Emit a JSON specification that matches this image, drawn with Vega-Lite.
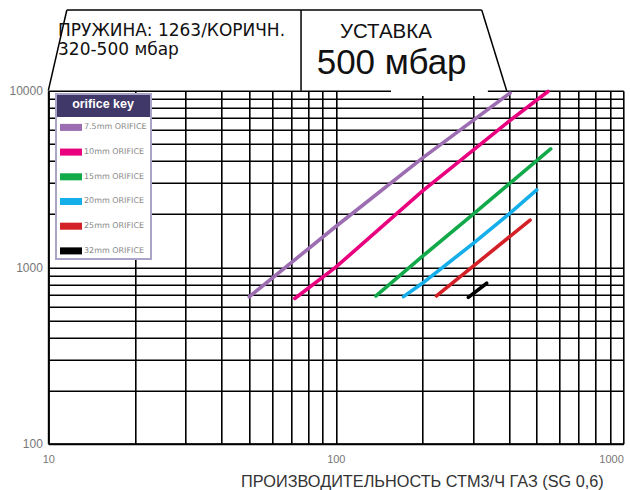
{
  "$schema": "https://vega.github.io/schema/vega-lite/v6.json",
  "width": 575,
  "height": 353,
  "autosize": {"type": "none"},
  "padding": {"left": 48.3, "top": 90.7, "right": 7, "bottom": 46},
  "background": "white",
  "config": {"font": "Liberation Sans", "view": {"stroke": null}},
  "datasets": {
    "curves": [
      {"orifice": "7.5mm ORIFICE", "flow": 50, "pressure": 680},
      {"orifice": "7.5mm ORIFICE", "flow": 100, "pressure": 1700},
      {"orifice": "7.5mm ORIFICE", "flow": 200, "pressure": 4150},
      {"orifice": "7.5mm ORIFICE", "flow": 404, "pressure": 9700},
      {"orifice": "10mm ORIFICE", "flow": 72, "pressure": 665},
      {"orifice": "10mm ORIFICE", "flow": 100, "pressure": 1000},
      {"orifice": "10mm ORIFICE", "flow": 200, "pressure": 2700},
      {"orifice": "10mm ORIFICE", "flow": 400, "pressure": 6700},
      {"orifice": "10mm ORIFICE", "flow": 547, "pressure": 9900},
      {"orifice": "15mm ORIFICE", "flow": 138, "pressure": 687},
      {"orifice": "15mm ORIFICE", "flow": 200, "pressure": 1150},
      {"orifice": "15mm ORIFICE", "flow": 300, "pressure": 1990},
      {"orifice": "15mm ORIFICE", "flow": 559, "pressure": 4680},
      {"orifice": "20mm ORIFICE", "flow": 172, "pressure": 681},
      {"orifice": "20mm ORIFICE", "flow": 200, "pressure": 810},
      {"orifice": "20mm ORIFICE", "flow": 300, "pressure": 1360},
      {"orifice": "20mm ORIFICE", "flow": 400, "pressure": 2000},
      {"orifice": "20mm ORIFICE", "flow": 500, "pressure": 2740},
      {"orifice": "25mm ORIFICE", "flow": 224, "pressure": 687},
      {"orifice": "25mm ORIFICE", "flow": 300, "pressure": 1010},
      {"orifice": "25mm ORIFICE", "flow": 474, "pressure": 1850},
      {"orifice": "32mm ORIFICE", "flow": 289, "pressure": 675},
      {"orifice": "32mm ORIFICE", "flow": 335, "pressure": 811}
    ]
  },
  "data": {"name": "curves"},
  "layer": [
    {
      "mark": {"type": "line", "strokeWidth": 3.6, "strokeCap": "round"},
      "encoding": {
        "x": {
          "field": "flow",
          "type": "quantitative",
          "scale": {"type": "log", "domain": [10, 1000], "nice": false},
          "axis": {
            "values": [10, 20, 30, 40, 50, 60, 70, 80, 90, 100, 200, 300, 400, 500, 600, 700, 800, 900, 1000],
            "grid": true,
            "gridColor": "black",
            "gridWidth": 1.6,
            "gridOpacity": 1,
            "ticks": false,
            "domainColor": "black",
            "domainWidth": 2,
            "labelExpr": "datum.value == 10 || datum.value == 100 || datum.value == 1000 ? format(datum.value, 'd') : ''",
            "labelFontSize": 11,
            "labelColor": "#777777",
            "labelPadding": 10,
            "labelFlush": false,
            "labelOverlap": false,
            "labelAlign": {"condition": {"test": "datum.value == 1000", "value": "right"}, "value": "center"},
            "title": "ПРОИЗВОДИТЕЛЬНОСТЬ СТМ3/Ч ГАЗ (SG 0,6)",
            "titleFont": "Liberation Sans",
            "titleFontSize": 16.3,
            "titleFontWeight": "normal",
            "titleColor": "#333333",
            "titleX": 555,
            "titleY": 43,
            "titleAlign": "right",
            "titleBaseline": "alphabetic"
          }
        },
        "y": {
          "field": "pressure",
          "type": "quantitative",
          "scale": {"type": "log", "domain": [100, 10000], "nice": false},
          "axis": {
            "values": [100, 200, 300, 400, 500, 600, 700, 800, 900, 1000, 2000, 3000, 4000, 5000, 6000, 7000, 8000, 9000, 10000],
            "grid": true,
            "gridColor": "black",
            "gridWidth": 1.6,
            "gridOpacity": 1,
            "ticks": false,
            "domainColor": "black",
            "domainWidth": 2,
            "labelExpr": "datum.value == 100 || datum.value == 1000 || datum.value == 10000 ? format(datum.value, 'd') : ''",
            "labelFontSize": 12,
            "labelColor": "#777777",
            "labelPadding": 6,
            "labelFlush": false,
            "labelOverlap": false,
            "labelBaseline": "middle",
            "title": null
          }
        },
        "color": {
          "field": "orifice",
          "type": "nominal",
          "scale": {
            "domain": ["7.5mm ORIFICE", "10mm ORIFICE", "15mm ORIFICE", "20mm ORIFICE", "25mm ORIFICE", "32mm ORIFICE"],
            "range": ["#9d6db2", "#e8007f", "#12a94a", "#14aeea", "#d42027", "#000000"]
          },
          "legend": {
            "title": "orifice key",
            "titleColor": "white",
            "titleFont": "Liberation Sans",
            "titleFontWeight": "bold",
            "titleFontSize": 12.5,
            "titleAnchor": "middle",
            "titlePadding": 5.9,
            "orient": "none",
            "legendX": 7.7,
            "legendY": 3.3,
            "strokeColor": "#aaa5c6",
            "padding": 4,
            "symbolType": "M-1,-0.32H1V0.32H-1Z",
            "symbolSize": 484,
            "symbolStrokeWidth": 0,
            "symbolOpacity": 1,
            "labelFont": "DejaVu Sans",
            "labelFontSize": 8,
            "labelColor": "#8a8a8a",
            "labelOffset": 2,
            "rowPadding": 9.7,
            "zindex": 1,
            "encode": {
              "symbols": {"update": {"fill": {"scale": "color", "field": "value"}, "stroke": {"value": "transparent"}}},
              "legend": {"update": {
                "strokeWidth": {"value": 2},
                "fill": {"value": {"gradient": "linear", "x1": 0, "y1": 0, "x2": 0, "y2": 1, "stops": [
                  {"offset": 0, "color": "#403868"},
                  {"offset": 0.137, "color": "#403868"},
                  {"offset": 0.138, "color": "#ffffff"},
                  {"offset": 1, "color": "#ffffff"}
                ]}}
              }}
            }
          }
        }
      }
    },
    {
      "data": {"values": [{}]},
      "mark": {"type": "rect", "fill": "white"},
      "encoding": {
        "x": {"datum": 155.6, "type": "quantitative"},
        "x2": {"datum": 338},
        "y": {"datum": 9333, "type": "quantitative"},
        "y2": {"datum": 10600}
      }
    },
    {
      "data": {"values": [{}]},
      "mark": {"type": "rule", "stroke": "black", "strokeWidth": 1.5},
      "encoding": {
        "x": {"datum": 10, "type": "quantitative"},
        "x2": {"datum": 11.6},
        "y": {"datum": 10000, "type": "quantitative"},
        "y2": {"datum": 28660}
      }
    },
    {
      "data": {"values": [{}]},
      "mark": {"type": "rule", "stroke": "black", "strokeWidth": 1.5},
      "encoding": {
        "x": {"datum": 11.6, "type": "quantitative"},
        "x2": {"datum": 321.8},
        "y": {"datum": 28660, "type": "quantitative"}
      }
    },
    {
      "data": {"values": [{}]},
      "mark": {"type": "rule", "stroke": "black", "strokeWidth": 1.5},
      "encoding": {
        "x": {"datum": 321.8, "type": "quantitative"},
        "x2": {"datum": 393},
        "y": {"datum": 28660, "type": "quantitative"},
        "y2": {"datum": 10000}
      }
    },
    {
      "data": {"values": [{}]},
      "mark": {"type": "rule", "stroke": "black", "strokeWidth": 1.5},
      "encoding": {
        "x": {"datum": 75.7, "type": "quantitative"},
        "y": {"datum": 28660, "type": "quantitative"},
        "y2": {"datum": 10000}
      }
    },
    {
      "data": {"values": [{}]},
      "mark": {"type": "text", "text": ["ПРУЖИНА: 1263/КОРИЧН.", "320-500 мбар"], "align": "left", "baseline": "alphabetic", "font": "DejaVu Sans", "fontSize": 17, "lineHeight": 19, "color": "#111111"},
      "encoding": {
        "x": {"datum": 10.81, "type": "quantitative"},
        "y": {"datum": 20420, "type": "quantitative"}
      }
    },
    {
      "data": {"values": [{}]},
      "mark": {"type": "text", "text": "УСТАВКА", "align": "left", "baseline": "alphabetic", "font": "Liberation Sans", "fontSize": 20.5, "color": "#111111"},
      "encoding": {
        "x": {"datum": 103.4, "type": "quantitative"},
        "y": {"datum": 19800, "type": "quantitative"}
      }
    },
    {
      "data": {"values": [{}]},
      "mark": {"type": "text", "text": "500 мбар", "align": "left", "baseline": "alphabetic", "font": "Liberation Sans", "fontSize": 35, "color": "#111111"},
      "encoding": {
        "x": {"datum": 85.8, "type": "quantitative"},
        "y": {"datum": 12400, "type": "quantitative"}
      }
    }
  ]
}
